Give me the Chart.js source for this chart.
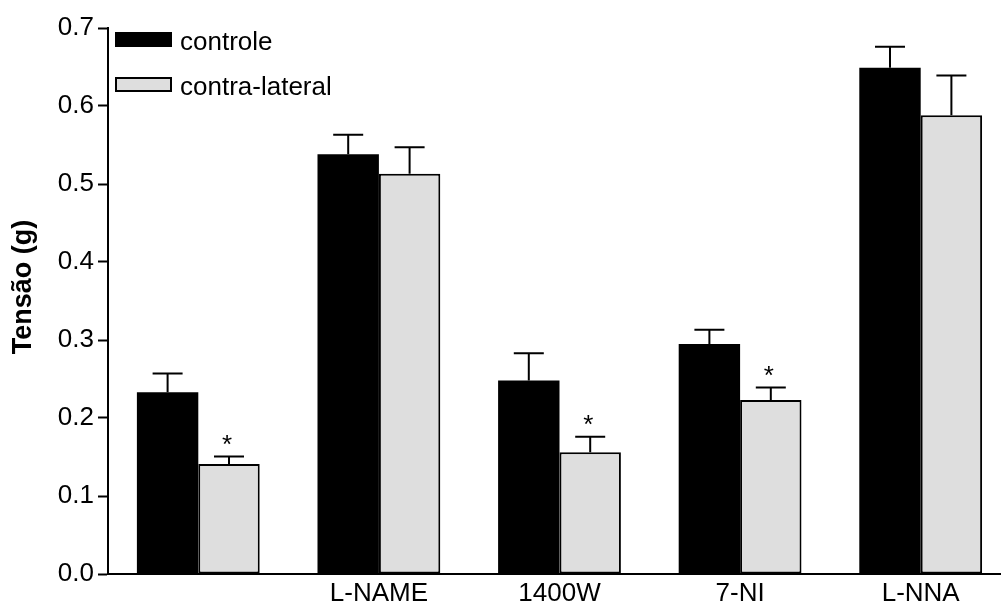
<!DOCTYPE html>
<html>
<head>
<meta charset="utf-8">
<script src="https://cdn.jsdelivr.net/npm/chart.js@4/dist/chart.umd.min.js"></script>
<style>
  html, body { margin: 0; padding: 0; background: #fff; overflow: hidden; }
  #wrap { width: 1011px; height: 601px; }
</style>
</head>
<body>
<div id="wrap"><canvas id="c" width="1011" height="601"></canvas></div>
<script>
// Tension per treatment group: control vs contralateral vessel
const categories = ["", "L-NAME", "1400W", "7-NI", "L-NNA"];
const controle = [0.233, 0.538, 0.248, 0.295, 0.649];
const controleErr = [0.024, 0.025, 0.035, 0.018, 0.027];
const contraLateral = [0.141, 0.513, 0.156, 0.223, 0.588];
const contraLateralErr = [0.0095, 0.034, 0.020, 0.016, 0.051];
const significant = [true, false, true, true, false];
const yTicks = [0, 0.1, 0.2, 0.3, 0.4, 0.5, 0.6, 0.7];
const yTitle = 'Tensão (g)';

const FONT = "'Liberation Sans', Arial, Helvetica, sans-serif";
Chart.defaults.font.family = FONT;
Chart.defaults.color = '#000';

// Upward error bars plus significance asterisks
const errorBars = {
  id: 'errorBars',
  afterDatasetsDraw(chart) {
    const ctx = chart.ctx;
    const y = chart.scales.y;
    const errs = [controleErr, contraLateralErr];
    ctx.save();
    ctx.strokeStyle = '#000';
    ctx.lineWidth = 2;
    chart.data.datasets.forEach((ds, di) => {
      const meta = chart.getDatasetMeta(di);
      meta.data.forEach((bar, i) => {
        const v = ds.data[i];
        const top = y.getPixelForValue(v);
        const cap = y.getPixelForValue(v + errs[di][i]);
        const x = bar.x;
        ctx.beginPath();
        ctx.moveTo(x, top);
        ctx.lineTo(x, cap);
        ctx.moveTo(x - 15, cap);
        ctx.lineTo(x + 15, cap);
        ctx.stroke();
        if (di === 1 && significant[i]) {
          ctx.fillStyle = '#000';
          ctx.font = '26px ' + FONT;
          ctx.textAlign = 'center';
          ctx.textBaseline = 'alphabetic';
          ctx.fillText('*', x - 2, cap - 4);
        }
      });
    });
    ctx.restore();
  }
};

// Legend inside the plot (top-left) and the rotated y-axis title
const annotations = {
  id: 'annotations',
  afterDraw(chart) {
    const ctx = chart.ctx;
    const left = chart.chartArea.left;
    ctx.save();
    ctx.font = '26px ' + FONT;
    ctx.textAlign = 'left';
    ctx.textBaseline = 'alphabetic';
    chart.data.datasets.forEach((ds, i) => {
      const boxTop = 32 + i * 45;
      ctx.fillStyle = ds.backgroundColor;
      ctx.fillRect(left + 7, boxTop, 57, 15);
      if (ds.borderWidth) {
        ctx.strokeStyle = '#000';
        ctx.lineWidth = 2;
        ctx.strokeRect(left + 8, boxTop + 1, 55, 13);
      }
      ctx.fillStyle = '#000';
      ctx.fillText(ds.label, left + 72, boxTop + 18);
    });

    ctx.translate(24, 287);
    ctx.rotate(-Math.PI / 2);
    ctx.font = 'bold 27px ' + FONT;
    ctx.textAlign = 'center';
    ctx.textBaseline = 'middle';
    ctx.fillText(yTitle, 0, 0);
    ctx.restore();
  }
};

new Chart(document.getElementById('c'), {
  type: 'bar',
  data: {
    labels: categories,
    datasets: [
      {
        label: 'controle',
        data: controle,
        backgroundColor: '#000000',
        borderColor: '#000000',
        borderWidth: 0,
        categoryPercentage: 0.68,
        barPercentage: 1.0
      },
      {
        label: 'contra-lateral',
        data: contraLateral,
        backgroundColor: '#dedede',
        borderColor: '#000000',
        borderWidth: 2,
        borderSkipped: false,
        categoryPercentage: 0.68,
        barPercentage: 1.0
      }
    ]
  },
  options: {
    responsive: false,
    animation: false,
    devicePixelRatio: 1,
    layout: { padding: { top: 28, right: 0, bottom: 0, left: 0 } },
    plugins: {
      legend: { display: false },
      tooltip: { enabled: false }
    },
    scales: {
      x: {
        type: 'category',
        offset: true,
        grid: { display: false },
        border: { display: true, color: '#000', width: 2 },
        ticks: { font: { size: 26 }, color: '#000', padding: -4, maxRotation: 0, autoSkip: false },
        afterFit(scale) { scale.height = 27; }
      },
      y: {
        min: 0,
        max: 0.7,
        afterBuildTicks(scale) { scale.ticks = yTicks.map(v => ({ value: v })); },
        grid: {
          display: true,
          drawOnChartArea: false,
          drawTicks: true,
          tickLength: 10,
          tickWidth: 2,
          tickColor: '#000'
        },
        border: { display: true, color: '#000', width: 2 },
        ticks: {
          font: { size: 26 },
          color: '#000',
          padding: 4,
          callback: (v) => Number(v).toFixed(1)
        },
        title: { display: false },
        afterFit(scale) { scale.width = 108; }
      }
    }
  },
  plugins: [errorBars, annotations]
});
</script>
</body>
</html>
